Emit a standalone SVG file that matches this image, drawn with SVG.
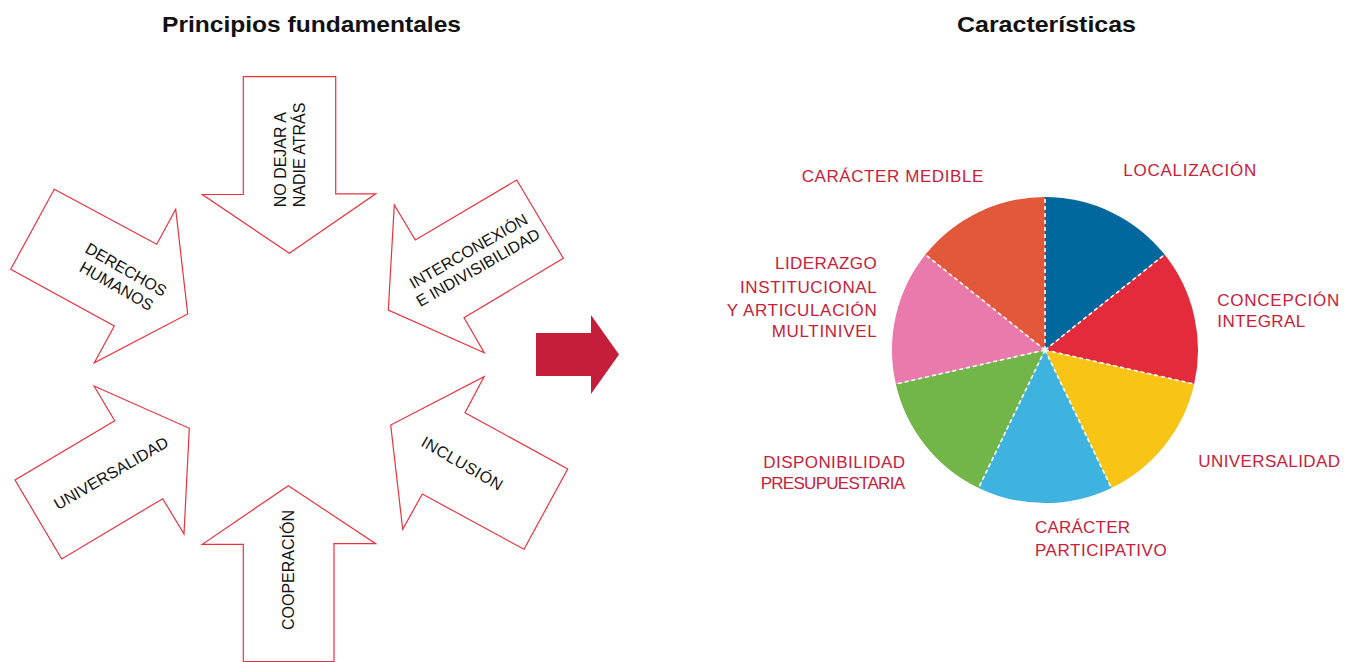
<svg xmlns="http://www.w3.org/2000/svg" width="1346" height="662" viewBox="0 0 1346 662">
<style>
.title{font-family:"Liberation Sans",Arial,sans-serif;font-weight:bold;font-size:22px;fill:#111;text-anchor:middle}
.arr{fill:#fff;stroke:#E8333F;stroke-width:1.2;stroke-linejoin:miter}
.at{font-family:"Liberation Sans",Arial,sans-serif;font-size:16px;fill:#111}
.lbl{font-family:"Liberation Sans",Arial,sans-serif;font-size:17px;fill:#C8203A}
.div{stroke:#fff;stroke-width:1.6;stroke-dasharray:4 3;fill:none}
</style>
<rect width="1346" height="662" fill="#fff"/>
<text class="title" x="311.5" y="32" textLength="299" lengthAdjust="spacingAndGlyphs">Principios fundamentales</text>
<text class="title" x="1046.5" y="32" textLength="179" lengthAdjust="spacingAndGlyphs">Características</text>

<g id="principio-no-dejar">
<polygon class="arr" points="243.3,76.7 335.7,76.7 335.7,193.8 375.7,193.8 289.3,253.3 202.3,194.5 243.3,194.5"/>
<g transform="translate(286,207.3) rotate(-90)"><text class="at" x="0" y="0">NO DEJAR A</text><text class="at" x="0" y="19">NADIE ATRÁS</text></g>
</g>
<g id="principio-derechos">
<polygon class="arr" points="54.3,189.3 156.7,244.3 175.7,209.3 187.7,314 94.3,362.7 114.3,326 10.7,269.3"/>
<g transform="translate(121.5,277.5) rotate(30)"><text class="at" text-anchor="middle" x="0" y="-3.5">DERECHOS</text><text class="at" text-anchor="middle" x="0" y="15.5">HUMANOS</text></g>
</g>
<g id="principio-interconexion">
<polygon class="arr" points="516.7,180 563.3,258.3 464,317.7 484.3,352.7 388.3,310 394.3,205 415.3,240"/>
<g transform="translate(473,259) rotate(-30)"><text class="at" text-anchor="middle" x="0" y="-3.5">INTERCONEXIÓN</text><text class="at" text-anchor="middle" x="0" y="15.5">E INDIVISIBILIDAD</text></g>
</g>
<g id="principio-universalidad">
<polygon class="arr" points="94,386 114.7,420.7 15,480 61.7,559 162.7,498.7 184,534 189.3,428.3"/>
<g transform="translate(111,473) rotate(-30)"><text class="at" text-anchor="middle" x="0" y="5.75">UNIVERSALIDAD</text></g>
</g>
<g id="principio-inclusion">
<polygon class="arr" points="484,376.7 465,412.7 567.7,469 524,549.3 422.3,494 402.7,529.3 390.7,425"/>
<g transform="translate(462.5,463.3) rotate(30)"><text class="at" text-anchor="middle" x="0" y="5.75" letter-spacing="0.5">INCLUSIÓN</text></g>
</g>
<g id="principio-cooperacion">
<polygon class="arr" points="288.3,485.7 375.7,543.7 334,543.7 334,661.7 243.3,661.7 243.3,544.3 202.3,544.3"/>
<g transform="translate(294,570) rotate(-90)"><text class="at" text-anchor="middle" x="0" y="0">COOPERACIÓN</text></g>
</g>

<g id="flecha-central">
<polygon points="536,333 591,333 591,315 619,354.5 591,394 591,376 536,376" fill="#C41E3A"/>
</g>

<g id="pie">
<path id="s-localizacion" d="M1045,350 L1045,197 A153,153 0 0 1 1164.6,254.6 Z" fill="#00689D"/>
<path id="s-concepcion" d="M1045,350 L1164.6,254.6 A153,153 0 0 1 1194.2,384 Z" fill="#E32B3B"/>
<path id="s-universalidad" d="M1045,350 L1194.2,384 A153,153 0 0 1 1111.4,487.9 Z" fill="#F8C416"/>
<path id="s-participativo" d="M1045,350 L1111.4,487.9 A153,153 0 0 1 978.6,487.9 Z" fill="#3FB3DF"/>
<path id="s-disponibilidad" d="M1045,350 L978.6,487.9 A153,153 0 0 1 895.8,384 Z" fill="#72B64A"/>
<path id="s-liderazgo" d="M1045,350 L895.8,384 A153,153 0 0 1 925.4,254.6 Z" fill="#EA7AAB"/>
<path id="s-medible" d="M1045,350 L925.4,254.6 A153,153 0 0 1 1045,197 Z" fill="#E2583A"/>
</g>
<g id="connectors">
<path class="div" d="M1045,350 L1045,197 M1045,350 L1164.6,254.6 M1045,350 L1194.2,384 M1045,350 L1111.4,487.9 M1045,350 L978.6,487.9 M1045,350 L895.8,384 M1045,350 L925.4,254.6"/>
</g>

<g id="labels">
<text class="lbl" x="1123.3" y="176" textLength="133" lengthAdjust="spacing">LOCALIZACIÓN</text>
<text class="lbl" x="1217.3" y="306" textLength="122" lengthAdjust="spacing">CONCEPCIÓN</text>
<text class="lbl" x="1217.3" y="327" textLength="88" lengthAdjust="spacing">INTEGRAL</text>
<text class="lbl" x="1198.3" y="467.3" textLength="141.7" lengthAdjust="spacing">UNIVERSALIDAD</text>
<text class="lbl" x="1035" y="533.3" textLength="95" lengthAdjust="spacing">CARÁCTER</text>
<text class="lbl" x="1035" y="556" textLength="131.7" lengthAdjust="spacing">PARTICIPATIVO</text>
<text class="lbl" x="763.3" y="468.3" textLength="141.7" lengthAdjust="spacing">DISPONIBILIDAD</text>
<text class="lbl" x="760.7" y="489.3" textLength="144.3" lengthAdjust="spacing">PRESUPUESTARIA</text>
<text class="lbl" x="801.7" y="181.7" textLength="181.6" lengthAdjust="spacing">CARÁCTER MEDIBLE</text>
<text class="lbl" x="775" y="269.3" textLength="101.7" lengthAdjust="spacing">LIDERAZGO</text>
<text class="lbl" x="740" y="292.7" textLength="136.7" lengthAdjust="spacing">INSTITUCIONAL</text>
<text class="lbl" x="726.7" y="315.7" textLength="150" lengthAdjust="spacing">Y ARTICULACIÓN</text>
<text class="lbl" x="771.7" y="336.7" textLength="105" lengthAdjust="spacing">MULTINIVEL</text>
</g>
</svg>
